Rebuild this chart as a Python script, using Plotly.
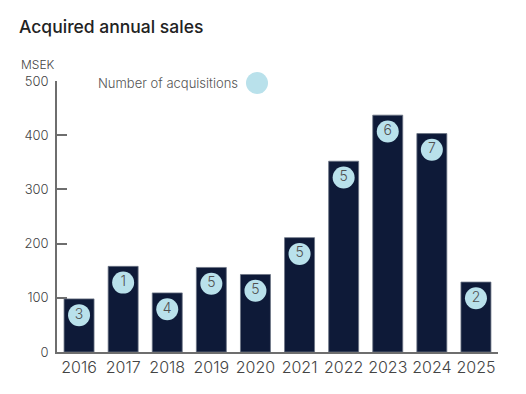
import plotly.graph_objects as go

years = ["2016", "2017", "2018", "2019", "2020", "2021", "2022", "2023", "2024", "2025"]
sales = [98, 158, 109, 156, 143, 211, 352, 437, 403, 129]
acquisitions = [3, 1, 4, 5, 5, 5, 5, 6, 7, 2]
y_ticks = [0, 100, 200, 300, 400, 500]

BAR = "#0e1a38"
BUBBLE = "#b9e1eb"
FONT = "Inter, Roboto, sans-serif"
bubble_offset = 30  # data units below bar top

fig = go.Figure()
fig.add_trace(go.Bar(
    x=years, y=sales,
    marker=dict(color=BAR, line=dict(color="#6b7384", width=0.8)),
    width=0.68, hoverinfo="skip",
))
fig.add_trace(go.Scatter(
    x=years, y=[s - bubble_offset for s in sales],
    mode="markers+text",
    marker=dict(size=22, color=BUBBLE, line=dict(width=0)),
    text=[str(a) for a in acquisitions],
    textposition="middle center",
    textfont=dict(family=FONT, size=14, color="#505050", weight=300),
    hoverinfo="skip",
))

fig.update_layout(
    width=526, height=394,
    margin=dict(l=57, r=28, t=81, b=42, autoexpand=False),
    plot_bgcolor="white", paper_bgcolor="white",
    showlegend=False,
    font=dict(family=FONT, color="#444"),
    title=dict(text="Acquired annual sales", x=19 / 526, xanchor="left",
               y=1 - 27 / 394, yanchor="middle",
               font=dict(family=FONT, size=17.5, color="#222", weight=500)),
    xaxis=dict(
        range=[-0.5, len(years) - 0.5],
        showline=True, linecolor="#6e6e6e", linewidth=2,
        ticks="", tickfont=dict(size=16, color="#444", weight=300), tickangle=0,
        showgrid=False, layer="below traces", automargin=False,
    ),
    yaxis=dict(
        range=[0, 500], tickvals=y_ticks, showline=True, linecolor="#6e6e6e",
        linewidth=1.5, ticks="inside", ticklen=10, tickwidth=1.5, tickcolor="#6e6e6e",
        tickfont=dict(size=13, color="#444", weight=300), showgrid=False, zeroline=False,
        layer="below traces", ticklabelstandoff=4, automargin=False,
    ),
    annotations=[
        dict(text="MSEK", xref="paper", yref="paper",
             x=(19 - 57) / 441, y=(352 - 65) / 271, xanchor="left", yanchor="middle",
             showarrow=False, font=dict(size=12, color="#444", weight=300)),
        dict(text="Number of acquisitions", xref="paper", yref="paper",
             x=(96 - 57) / 441, y=(352 - 83) / 271, xanchor="left", yanchor="middle",
             showarrow=False, font=dict(size=13, color="#555", weight=300)),
    ],
    shapes=[
        dict(type="circle", xref="paper", yref="paper",
             xsizemode="pixel", ysizemode="pixel",
             xanchor=(257 - 57) / 441, yanchor=(352 - 83) / 271,
             x0=-11, x1=11, y0=-11, y1=11,
             fillcolor=BUBBLE, line=dict(width=0)),
    ],
)

fig.write_html("out.html", config={"displayModeBar": False},
               post_script="document.body.style.margin='0';document.body.style.overflow='hidden';")
